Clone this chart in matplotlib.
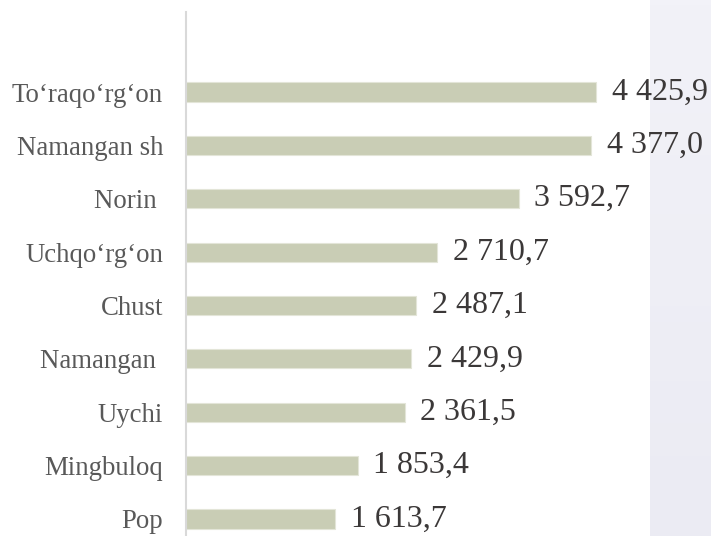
import matplotlib

matplotlib.use("Agg")

import matplotlib.pyplot as plt  # noqa: E402
import numpy as np  # noqa: E402

# bottom to top, as drawn
districts = ["Pop", "Mingbuloq", "Uychi", "Namangan ", "Chust",
             "Uchqo\u2018rg\u2018on", "Norin ", "Namangan sh",
             "To\u2018raqo\u2018rg\u2018on"]
values = [1613.7, 1853.4, 2361.5, 2429.9, 2487.1,
          2710.7, 3592.7, 4377.0, 4425.9]


def fmt(v: float) -> str:
    s = f"{v:,.1f}"
    return s.replace(",", " ").replace(".", ",")


plt.rcParams["font.family"] = ["Liberation Serif", "DejaVu Serif"]

fig = plt.figure(figsize=(7.11, 5.36), dpi=100)

# pale panel on the right edge (slide background)
grad = np.linspace(0, 1, 100).reshape(-1, 1)
bg = fig.add_axes([650 / 711, 0, 61 / 711, 1], zorder=0)
bg.imshow(grad, aspect="auto", cmap=matplotlib.colors.LinearSegmentedColormap.from_list(
    "pan", ["#f2f2f8", "#ebebf3"]), extent=[0, 1, 0, 1])
bg.axis("off")

ax = fig.add_axes([186 / 711, 0, 525 / 711, 524 / 536], zorder=1)
ax.patch.set_alpha(0)

y = np.arange(len(districts))
ax.barh(y, values, height=0.36, color="#c9cdb5", edgecolor="#e3e5d8", linewidth=0.8)

for yi, v in zip(y, values):
    ax.text(v + 170, yi, fmt(v), va="center", ha="left", fontsize=23,
            color="#3b3838")

ax.set_xlim(0, 525 / 0.0926)
ax.set_ylim(-0.32, 9.5)
ax.set_yticks(y)
ax.set_yticklabels(districts, fontsize=19.3, color="#595959")
ax.tick_params(axis="y", length=0, pad=16.5)
ax.set_xticks([])
for side in ["top", "right", "bottom"]:
    ax.spines[side].set_visible(False)
ax.spines["left"].set_color("#d9d9d9")
ax.spines["left"].set_linewidth(1.5)

fig.savefig("out.png", dpi=100)
